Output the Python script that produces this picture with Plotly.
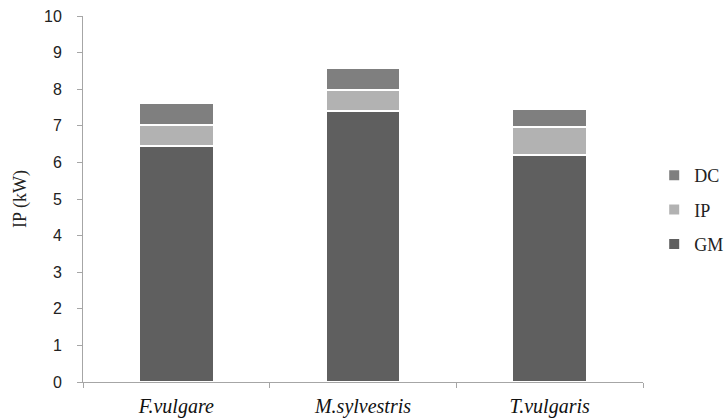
import plotly.graph_objects as go

categories = ["F.vulgare", "M.sylvestris", "T.vulgaris"]
gm_values = [6.45, 7.40, 6.20]
ip_values = [0.57, 0.58, 0.77]
dc_values = [0.60, 0.60, 0.49]
y_ticks = list(range(0, 11))

series = [
    ("GM", gm_values, "#5f5f5f", 3),
    ("IP", ip_values, "#b2b2b2", 2),
    ("DC", dc_values, "#7f7f7f", 1),
]

fig = go.Figure()
for name, vals, color, rank in series:
    fig.add_trace(go.Bar(
        x=categories, y=vals, name=name, legendgroup=name, legendrank=rank,
        marker=dict(color=color, line=dict(color="white", width=2)),
    ))

fig.update_layout(
    barmode="stack",
    bargap=0.6,
    width=728, height=419,
    margin=dict(l=83, r=85, t=16, b=37, autoexpand=False),
    plot_bgcolor="white", paper_bgcolor="white",
    legend=dict(
        x=1.02, y=0.47, xanchor="left", yanchor="middle",
        traceorder="grouped", tracegroupgap=8,
        font=dict(family="Liberation Serif", size=18, color="#222"),
        itemwidth=30,
    ),
    xaxis=dict(
        automargin=False,
        tickmode="array", tickvals=categories,
        ticktext=[f"<i>{c}</i>" for c in categories],
        tickfont=dict(family="Liberation Serif", size=20, color="#111"),
        showline=True, linecolor="#a6a6a6", linewidth=1,
        ticks="outside", tickson="boundaries", ticklen=5, tickcolor="#a6a6a6",
        ticklabelstandoff=6,
        showgrid=False,
    ),
    yaxis=dict(
        automargin=False,
        range=[0, 10], tickvals=y_ticks,
        tickfont=dict(family="Liberation Sans", size=16, color="#222"),
        showline=True, linecolor="#a6a6a6", linewidth=1,
        ticks="outside", ticklen=5, tickcolor="#a6a6a6",
        ticklabelstandoff=12,
        showgrid=False, zeroline=False,
        title=dict(text="IP (kW)", font=dict(family="Liberation Serif", size=18, color="#222"), standoff=12),
    ),
)

fig.write_html("out.html", config={"displayModeBar": False},
               post_script="document.body.style.margin='0';")
